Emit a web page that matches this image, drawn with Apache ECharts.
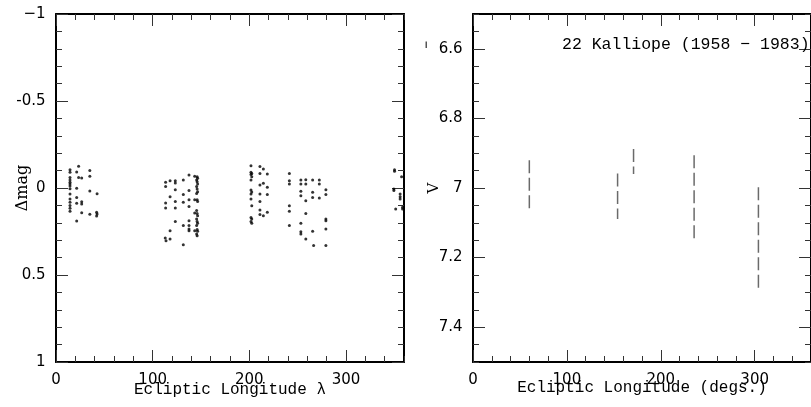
<!DOCTYPE html>
<html><head><meta charset="utf-8">
<script src="https://cdn.jsdelivr.net/npm/echarts@6/dist/echarts.min.js"></script>
<style>html,body{margin:0;padding:0;background:#fff}#c{width:811px;height:407px}</style>
</head><body><div id="c"></div>
<script>
// ---- Left panel: Δmag vs ecliptic longitude (dots)
const dotLon = [
  14.5,14.5,14.5,14.5,14.5,14.5,14.5,14.5,14.5,14.5,14.5,14.5,14.5,14.5,
  21.4,21.4,21.4,21.4,21.4, 23.4,23.4, 26.6,26.6,26.6,26.6, 35,35,35,35, 42.5,42,42.5,42,
  113.4,113.4,113.4,113.4,113,113.8, 118,118,118,118,
  123.4,123.4,123.4,123.4,123.4,123.4, 131.7,131.7,131.7,131.7,131.7,
  137.6,137.6,137.6,137.6,137.6,137.6,137.6,137.6,
  146,146.5,145.5,146,146.5,145.5,146,146.5,145.5,146,146.5,145.5,146,146.5,145.5,146,146.5,145.5,146,146.5,145.5,146,
  143.5,143.5,143.5,143.5,
  201.7,201.7,202.5,201.7,202.5,201.7,201.7,202.5,201.7,201.7,202.5,201.7,202.5,201.7,202.5,
  211,211,211,211,211,211,211, 214.5,214.5,214.5, 218.6,218.6,218.6,218.6,
  241.4,241.4,241.4,241.4,241.4,241.4, 253.3,253.3,253.3,253.3,253.3,253.3,253.3,
  258.4,258.4,258.4,258.4,258.4, 265.5,265.5,265.5,265.5,266.5, 272.4,272.4,272.4,
  279.2,279.2,279.2,279.2,279.2,279.2,
  350.2,350.2,357.5,349.5,349.5,356,356,356,351.4,358.5,358.5
];
const dotDmag = [
  -0.105,-0.090,-0.061,-0.046,-0.033,-0.023,-0.011,0.004,0.034,0.063,0.082,0.101,0.117,0.134,
  -0.092,0.002,0.054,0.088,0.19, -0.125,-0.061, -0.057,0.079,0.092,0.142, -0.1,-0.067,0.017,0.151, 0.033,0.14,0.149,0.161,
  -0.033,-0.008,0.086,0.115,0.287,0.303, -0.042,0.05,0.245,0.293,
  -0.042,-0.029,0.01,0.077,0.115,0.192, -0.046,0.038,0.082,0.216,0.326,
  -0.075,0.015,0.067,0.107,0.188,0.216,0.236,0.245,
  -0.065,-0.056,-0.046,-0.036,-0.023,-0.008,0.006,0.021,0.031,0.067,0.077,0.13,0.146,0.159,0.178,0.193,0.203,0.216,0.238,0.249,0.264,0.274,
  -0.067,0.067,0.144,0.245,
  -0.128,-0.09,-0.084,-0.077,-0.065,-0.046,0.011,0.023,0.034,0.063,0.102,0.169,0.178,0.192,0.203,
  -0.123,-0.084,-0.017,0.034,0.077,0.126,0.153, -0.109,-0.027,0.159, -0.08,-0.004,0.038,0.14,
  -0.084,-0.042,-0.023,0.102,0.134,0.216, -0.046,-0.023,0.019,0.044,0.203,0.251,0.264,
  -0.048,-0.023,0.073,0.146,0.293, -0.046,0.025,0.054,0.249,0.331, -0.046,-0.023,0.057,
  0.01,0.038,0.178,0.188,0.236,0.331,
  -0.105,-0.096,-0.065,0.006,0.015,0.034,0.05,0.063,0.121,0.111,0.121
];

// ---- Right panel: V ranges (dashed vertical bars)
const segLon    = [60, 154, 171, 235.5, 304];
const segTop    = [6.92, 6.958, 6.888, 6.906, 6.998];
const segBottom = [7.058, 7.089, 6.96, 7.149, 7.299];

// ---- Tick values / labels
const lonMinor = [0,20,40,60,80,100,120,140,160,180,200,220,240,260,280,300,320,340,360];
const lonMajor = [0,100,200,300];
const dmagMinor = [-1,-0.9,-0.8,-0.7,-0.6,-0.5,-0.4,-0.3,-0.2,-0.1,0,0.1,0.2,0.3,0.4,0.5,0.6,0.7,0.8,0.9,1];
const dmagMajor = [-1,-0.5,0,0.5,1];
const dmagLabels = ['\u22121','-0.5','0','0.5','1'];
const vMinor = [6.5,6.55,6.6,6.65,6.7,6.75,6.8,6.85,6.9,6.95,7,7.05,7.1,7.15,7.2,7.25,7.3,7.35,7.4,7.45,7.5];
const vMajor = [6.6,6.8,7,7.2,7.4];
const vLabels = ['6.6','6.8','7','7.2','7.4'];

const numFont = {fontFamily:'DejaVu Sans', fontSize:15, color:'#000'};
const titleFont = {fontFamily:'Liberation Mono', fontSize:16, color:'#000'};

function near(a,b){return Math.abs(a-b)<1e-6;}
const noLine = {show:false, onZero:false};
const boxLine = {show:true, onZero:false, lineStyle:{color:'#000', width:2}};
function tick(len, vals){return {show:true, inside:true, length:len, customValues:vals, lineStyle:{color:'#333', width:1}};}

function xAxes(grid, name, gap){
  const base = {type:'value', gridIndex:grid, min:0, max:360, splitLine:{show:false}};
  return [
    Object.assign({}, base, {position:'bottom', axisLine:boxLine, axisTick:tick(6, lonMinor),
      axisLabel:{show:true, customValues:lonMajor, margin:11, ...numFont},
      name:name, nameLocation:'middle', nameGap:gap, nameMoveOverlap:false, nameTextStyle:titleFont}),
    Object.assign({}, base, {position:'bottom', axisLine:noLine, axisTick:tick(12, lonMajor), axisLabel:{show:false}}),
    Object.assign({}, base, {position:'top', axisLine:boxLine, axisTick:tick(6, lonMinor), axisLabel:{show:false}}),
    Object.assign({}, base, {position:'top', axisLine:noLine, axisTick:tick(12, lonMajor), axisLabel:{show:false}})
  ];
}
function yAxes(grid, mn, mx, minor, major, labels, name, gap, nameFont){
  const base = {type:'value', gridIndex:grid, min:mn, max:mx, inverse:true, splitLine:{show:false}};
  return [
    Object.assign({}, base, {position:'left', axisLine:boxLine, axisTick:tick(6, minor),
      axisLabel:{show:true, customValues:major, margin:10.5, ...numFont,
        formatter:function(v){for(let i=0;i<major.length;i++){if(near(v,major[i]))return labels[i];}return '';}},
      name:name, nameLocation:'middle', nameGap:gap, nameRotate:90, nameMoveOverlap:false, nameTextStyle:nameFont}),
    Object.assign({}, base, {position:'left', axisLine:noLine, axisTick:tick(12, major), axisLabel:{show:false}}),
    Object.assign({}, base, {position:'right', axisLine:boxLine, axisTick:tick(6, minor), axisLabel:{show:false}}),
    Object.assign({}, base, {position:'right', axisLine:noLine, axisTick:tick(12, major), axisLabel:{show:false}})
  ];
}

const dots = dotLon.map((x,i)=>[x, dotDmag[i]]);
const segSeries = segLon.map((x,i)=>({
  type:'line', xAxisIndex:4, yAxisIndex:4, silent:true, symbol:'none', animation:false,
  data:[[x, segTop[i]],[x, segBottom[i]]],
  lineStyle:{color:'#6a6a6a', width:1.5, type:[13,4.5]}
}));

const chart = echarts.init(document.getElementById('c'), null, {renderer:'canvas'});
chart.setOption({
  animation:false,
  backgroundColor:'#fff',
  grid:[
    {left:56, top:14, width:348, height:348},
    {left:473, top:14, width:348, height:348}
  ],
  title:{text:'22 Kalliope (1958 \u2212 1983)', left:557, top:31,
    textStyle:{fontFamily:'Liberation Mono', fontSize:16.5, fontWeight:'normal', color:'#000'}},
  xAxis:[].concat(xAxes(0,'Ecliptic Longitude \u03bb',20), xAxes(1,'Ecliptic Longitude (degs.)',18)),
  yAxis:[].concat(
    yAxes(0,-1,1,dmagMinor,dmagMajor,dmagLabels,'\u0394mag',25,{fontFamily:'DejaVu Serif',fontSize:16,color:'#000'}),
    yAxes(1,6.5,7.5,vMinor,vMajor,vLabels,'V',31,{fontFamily:'DejaVu Serif',fontSize:15,color:'#000'})
  ),
  graphic:[{type:'rect', shape:{x:425.5, y:41.5, width:1.5, height:6.5}, style:{fill:'#555'}}],
  series:[
    {type:'scatter', xAxisIndex:0, yAxisIndex:0, data:dots, symbol:'circle', symbolSize:3,
     itemStyle:{color:'#000'}, silent:true}
  ].concat(segSeries)
});
</script></body></html>
